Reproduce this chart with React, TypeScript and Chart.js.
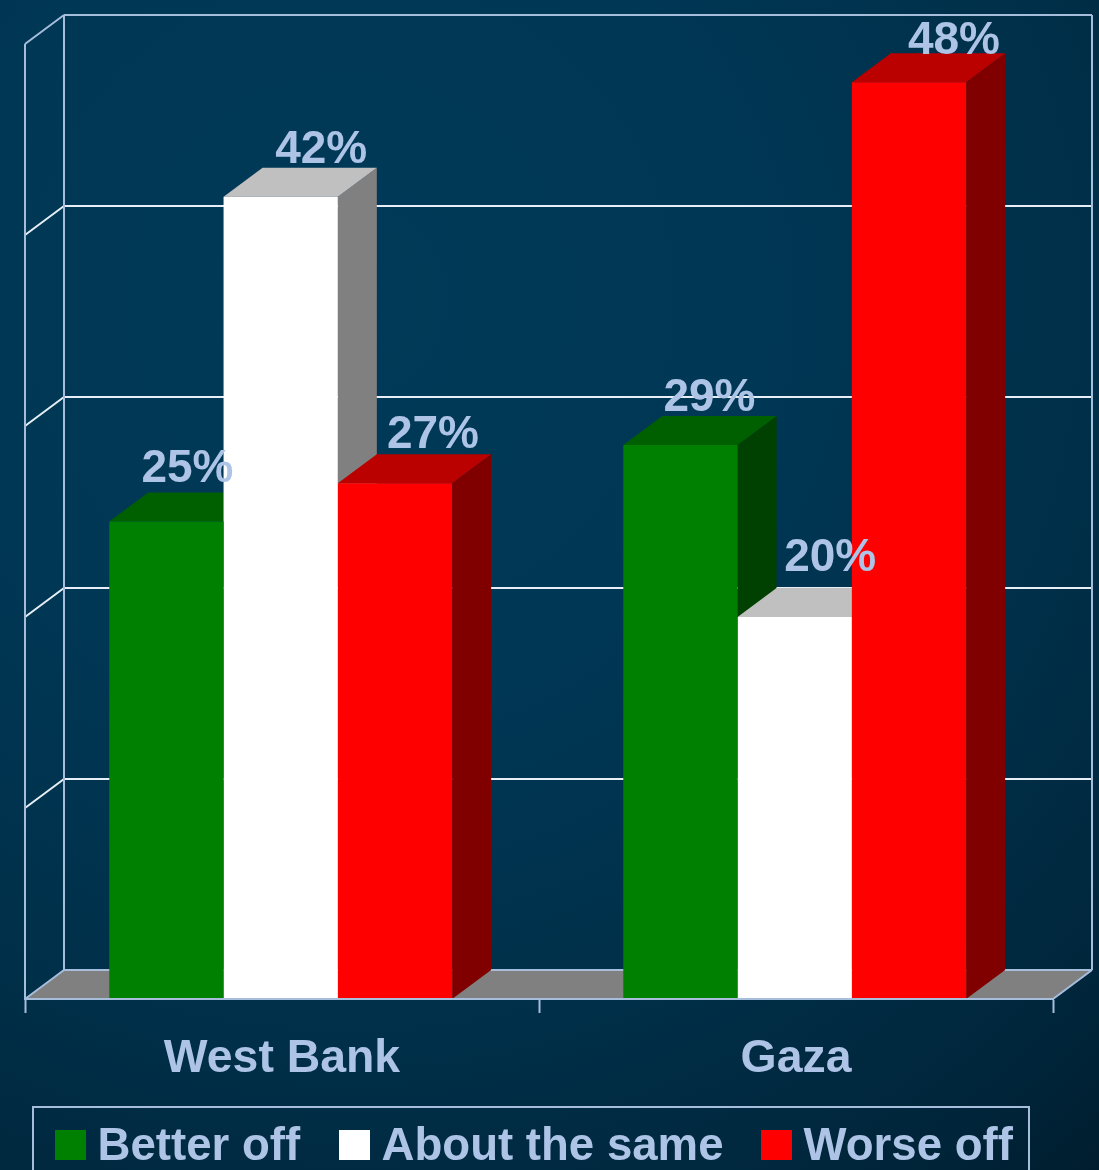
import React, { useEffect, useRef } from "react";
import { Chart, registerables } from "chart.js";

Chart.register(...registerables);

const categories = ["West Bank", "Gaza"];
const betterOff = [25, 29];
const aboutTheSame = [42, 20];
const worseOff = [27, 48];
const yTicksMax = 50;
const yTickStep = 10;

const FONT = "'Liberation Sans', Arial, sans-serif";
const TEXT = "#adc4e6";
const LINE = "#a6bddc";
const DEPTH_X = 39;
const DEPTH_Y = 29;
const BAR_SHIFT = -1.3;

// label offsets from the bar's top-front centre, [dx, dy] per dataset per category
const labelNudges = [
  [[21, -40], [29, -34]],
  [[40.5, -34], [35.5, -46]],
  [[38, -35], [45, -28]],
];
const faceColors = [
  { top: "#006000", side: "#004000" },
  { top: "#c0c0c0", side: "#808080" },
  { top: "#bb0000", side: "#800000" },
];

function poly(ctx: CanvasRenderingContext2D, pts: number[][], fill: string) {
  ctx.beginPath();
  pts.forEach((p, i) => (i ? ctx.lineTo(p[0], p[1]) : ctx.moveTo(p[0], p[1])));
  ctx.closePath();
  ctx.fillStyle = fill;
  ctx.fill();
}

function seg(ctx: CanvasRenderingContext2D, x1: number, y1: number, x2: number, y2: number, color: string, w = 2) {
  ctx.beginPath();
  ctx.moveTo(x1, y1);
  ctx.lineTo(x2, y2);
  ctx.strokeStyle = color;
  ctx.lineWidth = w;
  ctx.stroke();
}

const box3d = {
  id: "box3d",
  afterDatasetsUpdate(chart: any) {
    chart.data.datasets.forEach((_: any, d: number) => {
      chart.getDatasetMeta(d).data.forEach((b: any) => {
        b.x += BAR_SHIFT;
      });
    });
  },
  beforeDraw(chart: any) {
    const { ctx, width, height } = chart;
    const g = ctx.createRadialGradient(350, 300, 0, 350, 300, 1200);
    g.addColorStop(0, "#003a58");
    g.addColorStop(0.35, "#003754");
    g.addColorStop(0.6, "#00304a");
    g.addColorStop(0.85, "#00253a");
    g.addColorStop(1, "#001a2a");
    ctx.save();
    ctx.fillStyle = g;
    ctx.fillRect(0, 0, width, height);
    ctx.restore();
  },
  beforeDatasetsDraw(chart: any) {
    const { ctx, chartArea: a, scales } = chart;
    const y = scales.y;
    const left = a.left;
    const right = a.right;
    const bottom = y.getPixelForValue(0);
    const top = y.getPixelForValue(yTicksMax);
    ctx.save();
    poly(ctx, [[left, bottom], [left + DEPTH_X, bottom - DEPTH_Y], [right + DEPTH_X, bottom - DEPTH_Y], [right, bottom]], "#808080");
    // grid on the back wall and the left wall
    y.ticks.forEach((t: any) => {
      const p = y.getPixelForValue(t.value);
      if (t.value > 0 && t.value < yTicksMax) {
        seg(ctx, left + DEPTH_X, p - DEPTH_Y, right + DEPTH_X, p - DEPTH_Y, "#e8eef6");
        seg(ctx, left, p, left + DEPTH_X, p - DEPTH_Y, "#e8eef6");
      }
    });
    // frame
    seg(ctx, left, bottom, left, top, LINE);
    seg(ctx, left, top, left + DEPTH_X, top - DEPTH_Y, LINE);
    seg(ctx, left + DEPTH_X, top - DEPTH_Y, right + DEPTH_X, top - DEPTH_Y, LINE);
    seg(ctx, left + DEPTH_X, top - DEPTH_Y, left + DEPTH_X, bottom - DEPTH_Y, LINE);
    seg(ctx, right + DEPTH_X, top - DEPTH_Y, right + DEPTH_X, bottom - DEPTH_Y, LINE);
    seg(ctx, left + DEPTH_X, bottom - DEPTH_Y, right + DEPTH_X, bottom - DEPTH_Y, LINE);
    seg(ctx, left, bottom, left + DEPTH_X, bottom - DEPTH_Y, LINE);
    seg(ctx, right, bottom, right + DEPTH_X, bottom - DEPTH_Y, LINE);
    // side and top faces, left to right
    for (let c = 0; c < categories.length; c++) {
      chart.data.datasets.forEach((_: any, d: number) => {
        const b = chart.getDatasetMeta(d).data[c];
        const l = b.x - b.width / 2;
        const r = b.x + b.width / 2;
        poly(ctx, [[r, b.y], [r + DEPTH_X, b.y - DEPTH_Y], [r + DEPTH_X, b.base - DEPTH_Y], [r, b.base]], faceColors[d].side);
        poly(ctx, [[l, b.y], [l + DEPTH_X, b.y - DEPTH_Y], [r + DEPTH_X, b.y - DEPTH_Y], [r, b.y]], faceColors[d].top);
      });
    }
    ctx.restore();
  },
  afterDatasetsDraw(chart: any) {
    const { ctx, chartArea: a } = chart;
    ctx.save();
    seg(ctx, a.left, a.bottom, a.right, a.bottom, LINE);
    ctx.font = `bold 46px ${FONT}`;
    ctx.fillStyle = TEXT;
    ctx.textAlign = "center";
    ctx.textBaseline = "alphabetic";
    chart.data.datasets.forEach((ds: any, d: number) => {
      chart.getDatasetMeta(d).data.forEach((b: any, c: number) => {
        const [dx, dy] = labelNudges[d][c];
        ctx.fillText(`${ds.data[c]}%`, b.x + dx, b.y + dy);
      });
    });
    // legend
    ctx.strokeStyle = LINE;
    ctx.lineWidth = 2;
    ctx.beginPath();
    ctx.moveTo(33, 1175);
    ctx.lineTo(33, 1107);
    ctx.lineTo(1029, 1107);
    ctx.lineTo(1029, 1175);
    ctx.stroke();
    const swatchX = [55, 339, 761];
    ctx.textAlign = "left";
    ctx.font = `bold 45.6px ${FONT}`;
    chart.data.datasets.forEach((ds: any, d: number) => {
      ctx.fillStyle = ds.backgroundColor;
      ctx.fillRect(swatchX[d], 1130, 31, 30);
      ctx.fillStyle = TEXT;
      ctx.fillText(ds.label, swatchX[d] + 42.5, 1160);
    });
    ctx.restore();
  },
};

export default function App() {
  const ref = useRef<HTMLCanvasElement>(null);
  useEffect(() => {
    const mk = (label: string, data: number[], color: string) => ({
      label,
      data,
      backgroundColor: color,
      borderWidth: 0,
      categoryPercentage: 0.667,
      barPercentage: 1,
    });
    const chart = new Chart(ref.current!, {
      type: "bar",
      data: {
        labels: categories,
        datasets: [
          mk("Better off", betterOff, "#008000"),
          mk("About the same", aboutTheSame, "#ffffff"),
          mk("Worse off", worseOff, "#ff0000"),
        ],
      },
      plugins: [box3d],
      options: {
        responsive: false,
        animation: false,
        layout: { padding: { left: 25, right: 46, top: 44, bottom: 0 } },
        plugins: { legend: { display: false }, tooltip: { enabled: false } },
        scales: {
          x: {
            afterFit(s: any) {
              s.height = 171;
            },
            border: { display: true, color: LINE, width: 2 },
            grid: { display: true, drawOnChartArea: false, drawTicks: true, tickLength: 14, tickWidth: 2, tickColor: LINE, color: LINE },
            ticks: { color: TEXT, font: { family: FONT, size: 46.4, weight: "bold" }, padding: 18, maxRotation: 0 },
          },
          y: {
            display: false,
            min: 0,
            max: yTicksMax,
            ticks: { stepSize: yTickStep },
            grid: { display: false },
          },
        },
      },
    } as any);
    return () => chart.destroy();
  }, []);
  return (
    <div style={{ position: "absolute", left: 0, top: 0, width: 1099, height: 1170, overflow: "hidden" }}>
      <canvas ref={ref} width={1099} height={1170} style={{ display: "block" }} />
    </div>
  );
}
